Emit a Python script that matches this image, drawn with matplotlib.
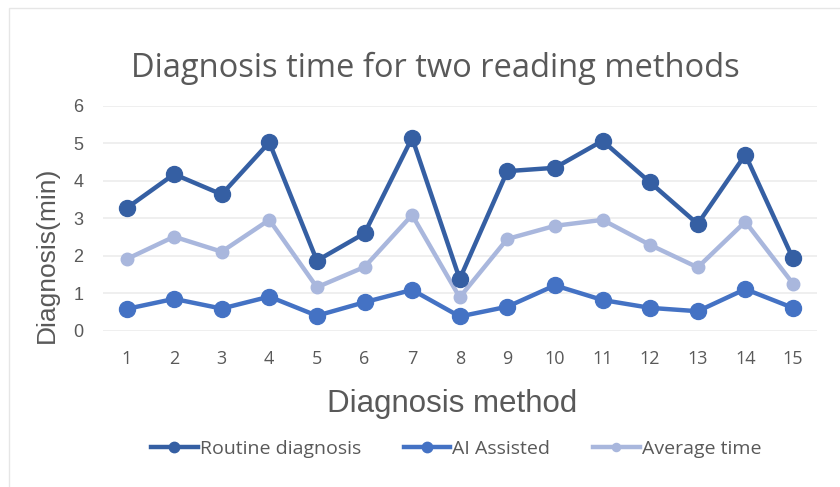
import matplotlib
matplotlib.use("Agg")
import matplotlib.pyplot as plt
from matplotlib.patches import Rectangle

categories = list(range(1, 16))
routine = [3.27, 4.18, 3.64, 5.03, 1.87, 2.60, 5.15, 1.38, 4.26, 4.35, 5.07, 3.96, 2.85, 4.70, 1.93]
ai_assisted = [0.58, 0.85, 0.59, 0.91, 0.40, 0.76, 1.09, 0.38, 0.64, 1.21, 0.82, 0.61, 0.52, 1.11, 0.61]
average = [1.91, 2.51, 2.11, 2.96, 1.16, 1.70, 3.09, 0.89, 2.45, 2.80, 2.96, 2.29, 1.69, 2.91, 1.26]
yticks = [0, 1, 2, 3, 4, 5, 6]

W, H = 840, 487
fig = plt.figure(figsize=(W / 100, H / 100), dpi=100)
fig.patch.set_facecolor("white")
fig.patches.append(Rectangle((9 / W, -0.1), 2, (H - 8) / H + 0.1, transform=fig.transFigure,
                             fill=False, edgecolor="#e6e6e6", linewidth=1))

left, right, top, bottom = 102.7, 816.7, 106, 330.7
ax = fig.add_axes([left / W, 1 - bottom / H, (right - left) / W, (bottom - top) / H])

c_routine = "#355fa3"
c_ai = "#4472c4"
c_avg = "#a9b7dd"

ax.plot(categories, routine, color=c_routine, lw=3.2, marker="o", ms=11.5, label="Routine diagnosis", zorder=3)
ax.plot(categories, ai_assisted, color=c_ai, lw=3.2, marker="o", ms=11.5, label="AI Assisted", zorder=3)
ax.plot(categories, average, color=c_avg, lw=3.2, marker="o", ms=9, label="Average time", zorder=2)

ax.set_xlim(0.5, 15.5)
ax.set_ylim(0, 6)
ax.set_yticks(yticks)
ax.set_xticks(categories)
ax.grid(axis="y", color="#ececec", lw=1.2)
ax.set_axisbelow(True)
for s in ax.spines.values():
    s.set_visible(False)
ax.tick_params(length=0)
ax.tick_params(axis="y", pad=14)
ax.tick_params(axis="x", pad=14)
for lab in ax.get_yticklabels():
    lab.set_fontfamily("Liberation Sans")
    lab.set_fontsize(13)
    lab.set_color("#595959")
for lab in ax.get_xticklabels():
    lab.set_fontfamily("Open Sans")
    lab.set_fontsize(13)
    lab.set_color("#595959")

fig.text(435 / W, 1 - 68 / H, "Diagnosis time for two reading methods", ha="center", va="center",
         fontsize=23.5, color="#595959", family="Open Sans")
fig.text(452 / W, 1 - 404 / H, "Diagnosis method", ha="center", va="center",
         fontsize=22.5, color="#595959", family="Liberation Sans")
fig.text(47 / W, 1 - 255 / H, "Diagnosis(min)", ha="center", va="center", rotation=90,
         fontsize=19, color="#595959", family="Liberation Sans")

leg = fig.legend(loc="center", bbox_to_anchor=(456 / W, 1 - 449 / H), ncol=3, frameon=False,
                 prop={"family": "Open Sans", "size": 14}, handlelength=2.4, handletextpad=0.1,
                 columnspacing=2.2, markerscale=0.65)
for t in leg.get_texts():
    t.set_color("#595959")

fig.savefig("out.png", dpi=100, facecolor="white")
